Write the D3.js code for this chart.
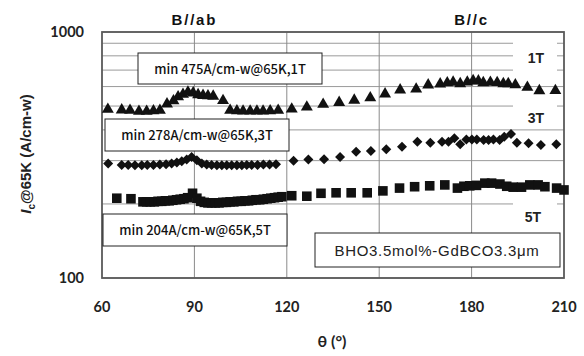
<!DOCTYPE html>
<html>
<head>
<meta charset="utf-8">
<script src="https://cdn.jsdelivr.net/npm/d3@7"></script>
<style>
  body { margin: 0; background: #fff; }
  svg { display: block; }
</style>
</head>
<body>
<svg id="chart" width="584" height="356"></svg>
<script>
// ---- data ----
const theta1T = [61.9, 66.4, 69.1, 72.0, 74.5, 76.7, 78.8, 81.1, 83.2, 84.7, 86.3, 87.9, 89.6, 91.2, 92.8, 94.4, 96.1, 99.3,
  101.6, 103.8, 105.8, 108.1, 110.3, 112.3, 114.6, 117.2, 121.6, 126.5, 131.8, 137.0, 141.9, 147.1, 151.9, 156.8, 162.0,
  165.9, 169.8, 172.1, 174.0, 176.3, 178.6, 180.5, 182.2, 183.8, 186.1, 188.3, 190.3, 191.9, 194.2, 198.1, 202.0, 207.2];
const ic1T = [485, 482, 480, 476, 476, 478, 480, 510, 525, 545, 558, 570, 565, 556, 552, 550, 548, 526,
  480, 478, 477, 477, 477, 477, 478, 480, 486, 495, 508, 517, 528, 540, 560, 581, 586,
  609, 615, 621, 625, 616, 626, 634, 632, 622, 624, 623, 616, 616, 610, 596, 577, 578];

const theta3T = [62.0, 66.4, 68.5, 70.7, 72.9, 74.7, 76.7, 78.8, 80.8, 82.6, 84.3, 85.9, 87.5, 89.1, 90.8, 92.4, 94.0,
  95.6, 97.3, 98.9, 100.5, 102.1, 103.8, 105.4, 107.0, 108.6, 110.5, 112.4, 114.4, 116.5, 122.2, 127.0, 132.1, 137.3,
  142.5, 147.3, 152.3, 157.4, 162.4, 166.6, 170.4, 172.5, 174.4, 176.3, 178.3, 180.1, 181.7, 183.9, 185.5, 187.1,
  189.1, 190.6, 192.8, 194.7, 198.5, 202.5, 207.5];
const ic3T = [292, 288, 288, 287, 287, 288, 288, 289, 290, 292, 295, 298, 303, 310, 301, 292, 289,
  288, 287, 287, 287, 287, 287, 287, 288, 288, 288, 289, 289, 290, 300, 303, 304, 310,
  326, 328, 334, 342, 358, 355, 358, 358, 370, 350, 366, 366, 366, 364, 364, 366,
  364, 375, 385, 355, 353, 347, 350];

const theta5T = [64.8, 69.4, 73.3, 74.5, 75.7, 77.0, 78.2, 79.4, 80.6, 81.8, 83.0, 84.2, 85.4, 86.6, 87.8, 89.4, 90.8,
  92.0, 93.2, 94.4, 95.6, 96.8, 98.0, 99.2, 100.4, 101.6, 102.8, 104.0, 105.2, 106.4, 107.6, 108.8, 110.0, 111.2,
  112.4, 113.6, 114.8, 116.0, 117.2, 118.4, 121.6, 126.5, 131.1, 136.0, 140.9, 146.1, 151.2, 156.6, 161.5, 166.4,
  171.3, 175.4, 177.5, 179.4, 181.6, 184.3, 186.5, 189.2, 191.4, 193.5, 196.2, 198.9, 201.6, 203.8, 207.6, 210.0];
const ic5T = [211, 210, 204, 204, 204, 204, 205, 205, 206, 206, 207, 208, 209, 210, 212, 221, 211,
  205, 203, 202, 202, 202, 202, 203, 203, 204, 204, 205, 205, 206, 206, 207, 208, 208,
  209, 210, 211, 212, 213, 214, 216, 215, 221, 222, 222, 222, 226, 232, 235, 237,
  239, 232, 236, 237, 238, 243, 243, 241, 236, 234, 234, 239, 239, 235, 232, 228];

const xTicks = [60, 90, 120, 150, 180, 210];
const yGrid = [100, 200, 300, 400, 500, 600, 700, 800, 900, 1000];
const yLabels = [100, 1000];
const notes = ["min 475A/cm-w@65K,1T", "min 278A/cm-w@65K,3T", "min 204A/cm-w@65K,5T"];
const fieldLabels = ["1T", "3T", "5T"];
const sampleLabel = "BHO3.5mol%-GdBCO3.3\u03bcm";
const orientLabels = [["B//ab", 90], ["B//c", 180]];

// ---- layout ----
const svg = d3.select("#chart");
const L = 102, R = 564, T = 32, B = 278;

const x = d3.scaleLinear().domain([60, 210]).range([L, R]);
const y = d3.scaleLog().domain([100, 1000]).range([B, T]);

const axisFont = "Lato, 'Open Sans', sans-serif";
const gothic = "'Noto Sans CJK JP', 'Noto Sans', sans-serif";
const arial = "'Liberation Sans', Arial, sans-serif";

// grid
svg.append("g")
  .selectAll("line")
  .data(yGrid)
  .join("line")
  .attr("x1", L).attr("x2", R)
  .attr("y1", d => y(d)).attr("y2", d => y(d))
  .attr("stroke", "#9a9a9a").attr("stroke-width", 1);

svg.append("g")
  .selectAll("line")
  .data(xTicks.slice(1, -1))
  .join("line")
  .attr("x1", d => x(d)).attr("x2", d => x(d))
  .attr("y1", T).attr("y2", B)
  .attr("stroke", "#8a8a8a").attr("stroke-width", 1);

// white patches behind the field labels (they cut the grid lines)
const fieldPos = [[536, 58, 40, 74], [536, 118, 99, 128], [533, 217, 197, 233]];
svg.append("g")
  .selectAll("rect")
  .data(fieldPos)
  .join("rect")
  .attr("x", 513).attr("width", 44)
  .attr("y", d => d[2]).attr("height", d => d[3] - d[2])
  .attr("fill", "#fff");

svg.append("g")
  .selectAll("text")
  .data(fieldLabels)
  .join("text")
  .attr("x", (d, i) => fieldPos[i][0])
  .attr("y", (d, i) => fieldPos[i][1] + 5)
  .attr("text-anchor", "middle")
  .attr("font-family", arial)
  .attr("font-weight", "bold")
  .attr("font-size", 14)
  .attr("fill", "#222")
  .text(d => d);

// plot frame
svg.append("rect")
  .attr("x", L).attr("y", T)
  .attr("width", R - L).attr("height", B - T)
  .attr("fill", "none")
  .attr("stroke", "#5a5a5a").attr("stroke-width", 1.8);

// annotation boxes
const noteBoxes = [[138, 53, 184, 31], [105, 119, 184, 32], [103, 214, 184, 32]];
const ng = svg.append("g");
ng.selectAll("rect")
  .data(noteBoxes)
  .join("rect")
  .attr("x", d => d[0]).attr("y", d => d[1])
  .attr("width", d => d[2]).attr("height", d => d[3])
  .attr("fill", "#fff").attr("stroke", "#222").attr("stroke-width", 1);
ng.selectAll("text")
  .data(notes)
  .join("text")
  .attr("x", (d, i) => noteBoxes[i][0] + noteBoxes[i][2] / 2)
  .attr("y", (d, i) => noteBoxes[i][1] + noteBoxes[i][3] / 2 + 5)
  .attr("text-anchor", "middle")
  .attr("font-family", gothic)
  .attr("font-weight", 500)
  .attr("font-size", 13)
  .attr("fill", "#111")
  .text(d => d);

// sample box
svg.append("rect")
  .attr("x", 315).attr("y", 233).attr("width", 245).attr("height", 34)
  .attr("fill", "#fff").attr("stroke", "#222").attr("stroke-width", 1);
svg.append("text")
  .attr("x", 437).attr("y", 256)
  .attr("text-anchor", "middle")
  .attr("font-family", arial)
  .attr("font-size", 15)
  .attr("letter-spacing", 0.7)
  .attr("fill", "#222")
  .text(sampleLabel);

// markers
const tri = d3.symbol().type(d3.symbolTriangle).size(62);
const sq = d3.symbol().type(d3.symbolSquare).size(92);
const dia = d3.symbol().type(d3.symbolSquare).size(50);

function drawSeries(thetas, vals, path, rot) {
  svg.append("g")
    .selectAll("path")
    .data(thetas.map((t, i) => [t, vals[i]]))
    .join("path")
    .attr("d", path)
    .attr("transform", d => `translate(${x(d[0])},${y(d[1])}) rotate(${rot})`)
    .attr("fill", "#111");
}
drawSeries(theta1T, ic1T, tri, 0);
drawSeries(theta3T, ic3T, dia, 45);
drawSeries(theta5T, ic5T, sq, 0);

// axes labels
svg.append("g")
  .selectAll("text")
  .data(xTicks)
  .join("text")
  .attr("x", d => x(d))
  .attr("y", 312)
  .attr("text-anchor", "middle")
  .attr("font-family", axisFont)
  .attr("font-weight", "bold")
  .attr("font-size", 14.5)
  .attr("fill", "#222")
  .text(d => d);

svg.append("g")
  .selectAll("text")
  .data(yLabels)
  .join("text")
  .attr("x", 84)
  .attr("y", d => y(d) + 5)
  .attr("text-anchor", "end")
  .attr("font-family", axisFont)
  .attr("font-weight", "bold")
  .attr("font-size", 14.5)
  .attr("fill", "#222")
  .text(d => d);

svg.append("text")
  .attr("x", 332).attr("y", 347)
  .attr("text-anchor", "middle")
  .attr("font-family", axisFont)
  .attr("font-weight", "bold")
  .attr("font-size", 16)
  .attr("fill", "#222")
  .text("\u03b8 (\u00b0)");

const yt = svg.append("text")
  .attr("transform", "translate(31,154) rotate(-90)")
  .attr("text-anchor", "middle")
  .attr("font-family", arial)
  .attr("font-weight", "bold")
  .attr("font-size", 15)
  .attr("fill", "#222");
yt.append("tspan").attr("font-style", "italic").text("I");
yt.append("tspan").attr("font-size", 10).attr("dy", 4).text("c");
yt.append("tspan").attr("dy", -4).text("@65K (A/cm-w)");

// orientation labels on top
svg.append("g")
  .selectAll("text")
  .data(orientLabels)
  .join("text")
  .attr("x", d => x(d[1]))
  .attr("y", 25)
  .attr("text-anchor", "middle")
  .attr("font-family", arial)
  .attr("font-weight", "bold")
  .attr("font-size", 15)
  .attr("letter-spacing", 1.8)
  .attr("fill", "#111")
  .text(d => d[0]);
</script>
</body>
</html>
